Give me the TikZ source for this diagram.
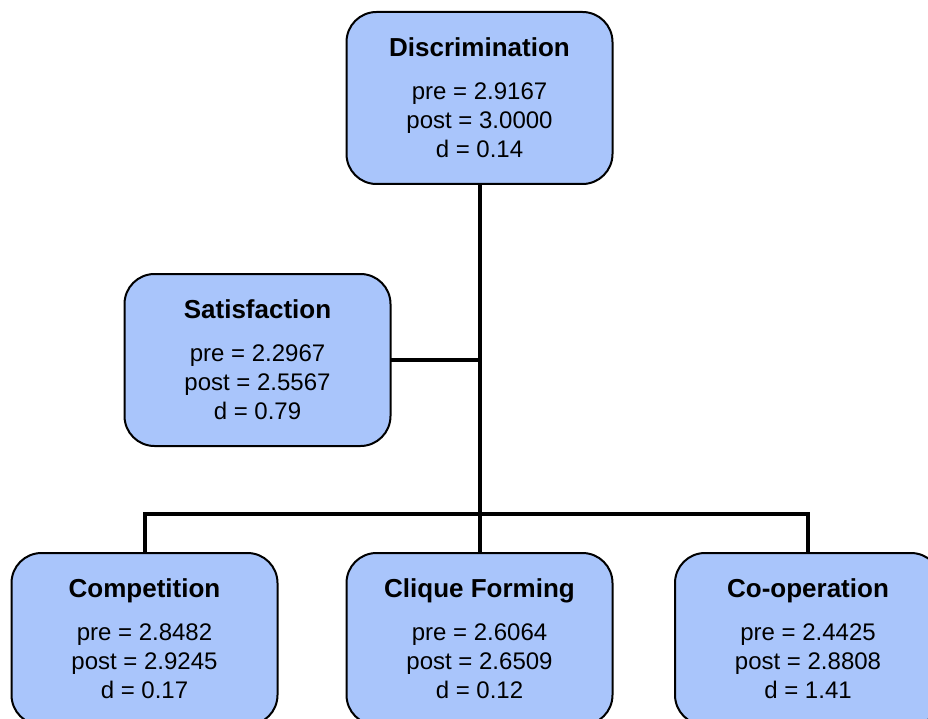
\documentclass[tikz,border=0pt]{standalone}
\usepackage{fontspec}
\setmainfont{Liberation Sans}
\usepackage{xcolor}
\usetikzlibrary{calc}
\definecolor{boxblue}{HTML}{A9C5FB}

\begin{document}
\begin{tikzpicture}[x=1pt,y=-1pt,
    scale box/.style = {draw, line width=2pt, fill=boxblue,
      rounded corners=30pt, minimum width=266pt, minimum height=172pt,
      align=center, font=\fontsize{24}{29}\selectfont, inner sep=0pt},
    title/.style = {font=\bfseries\fontsize{26}{30}\selectfont},
    link/.style = {line width=4pt, line cap=rect}
  ]
  \clip (0,0) rectangle (928,719);
  \node[scale box] (disc) at (479.5,98)
    {\textbf{\fontsize{26}{30}\selectfont Discrimination}\\[14pt]pre = 2.9167\\post = 3.0000\\d = 0.14};
  \node[scale box] (sat) at (257.5,360)
    {\textbf{\fontsize{26}{30}\selectfont Satisfaction}\\[14pt]pre = 2.2967\\post = 2.5567\\d = 0.79};
  \node[scale box] (comp) at (144.5,639)
    {\textbf{\fontsize{26}{30}\selectfont Competition}\\[14pt]pre = 2.8482\\post = 2.9245\\d = 0.17};
  \node[scale box] (clique) at (479.5,639)
    {\textbf{\fontsize{26}{30}\selectfont Clique Forming}\\[14pt]pre = 2.6064\\post = 2.6509\\d = 0.12};
  \node[scale box] (coop) at (808,639)
    {\textbf{\fontsize{26}{30}\selectfont Co-operation}\\[14pt]pre = 2.4425\\post = 2.8808\\d = 1.41};

  % connectors
  \coordinate (bus) at (disc.south |- 0,514);
  \draw[link] (disc.south) -- (clique.north);
  \draw[link] (sat.east) -- (sat.east -| disc.south);
  \draw[link] (comp.north) |- (bus) -| (coop.north);
\end{tikzpicture}
\end{document}
